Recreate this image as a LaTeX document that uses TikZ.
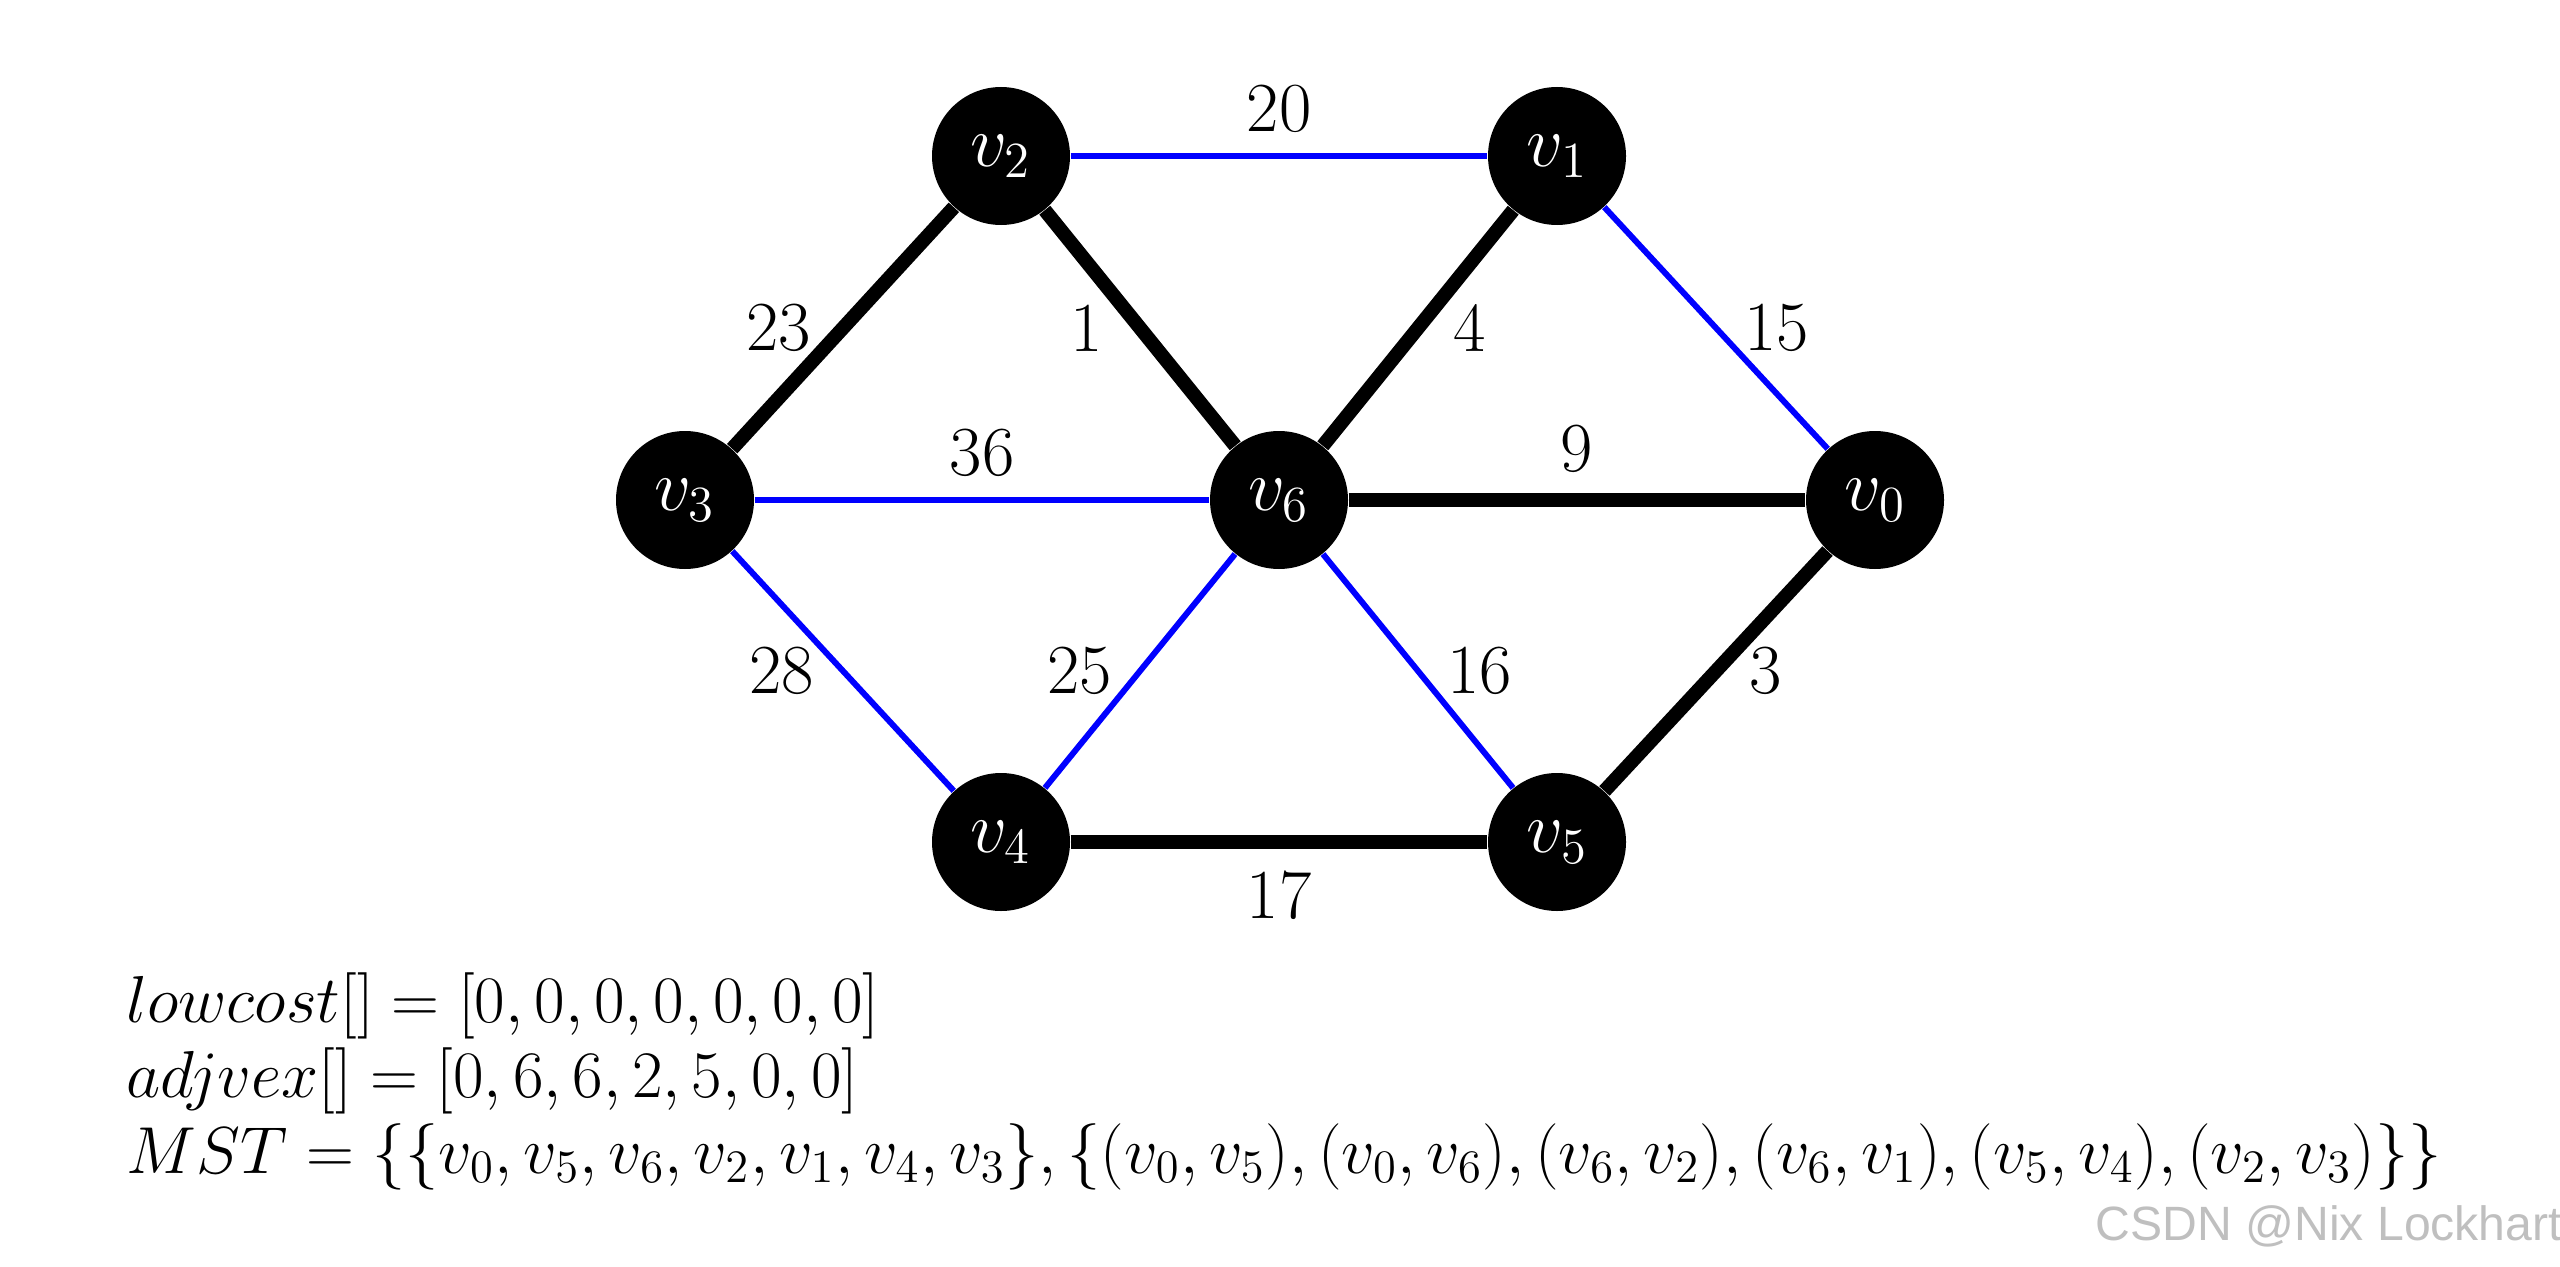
\RequirePackage{fix-cm}
\documentclass[tikz,border=0pt]{standalone}
\usepackage{fontspec}
\newfontfamily\wmfont{Liberation Sans}
\usetikzlibrary{positioning}

\begin{document}
\begin{tikzpicture}[
    vertex/.style={circle, fill=black, text=white, minimum size=1.38cm, inner sep=0pt, font=\fontsize{20.74}{25}\selectfont},
    treeedge/.style={line width=4pt, black},
    restedge/.style={line width=1.7pt, blue},
    weight/.style={inner sep=0pt, text=black, font=\fontsize{20}{24}\selectfont},
    formula/.style={anchor=base west, inner sep=0pt, font=\fontsize{18.9}{22}\selectfont},
]
    \useasboundingbox (0,0) rectangle (25.6,12.66);

    % Vertices
    \node[vertex] (v0) at (18.75,7.66) {$v_0$};
    \node[vertex] (v1) at (15.57,11.10) {$v_1$};
    \node[vertex] (v2) at (10.01,11.10) {$v_2$};
    \node[vertex] (v3) at (6.85,7.66) {$v_3$};
    \node[vertex] (v4) at (10.01,4.24) {$v_4$};
    \node[vertex] (v5) at (15.57,4.24) {$v_5$};
    \node[vertex] (v6) at (12.79,7.66) {$v_6$};

    % Edges left out of the tree
    \draw[restedge] (v2) -- node[weight, above=0.2cm] {20} (v1);
    \draw[restedge] (v1) -- node[weight, right=0.25cm] {15} (v0);
    \draw[restedge] (v3) -- node[weight, above=0.2cm] {36} (v6);
    \draw[restedge] (v3) -- node[weight, left=0.26cm] {28} (v4);
    \draw[restedge] (v4) -- node[weight, left=0.25cm] {25} (v6);
    \draw[restedge] (v6) -- node[weight, right=0.26cm] {16} (v5);

    % Edges of the spanning tree
    \draw[treeedge] (v3) -- node[weight, left=0.25cm] {23} (v2);
    \draw[treeedge] (v2) -- node[weight, left=0.3cm] {1} (v6);
    \draw[treeedge] (v6) -- node[weight, right=0.28cm] {4} (v1);
    \draw[treeedge] (v6) -- node[weight, above=0.2cm] {9} (v0);
    \draw[treeedge] (v5) -- node[weight, right=0.26cm] {3} (v0);
    \draw[treeedge] (v4) -- node[weight, below=0.22cm] {17} (v5);

    % Prim state
    \node[formula] (lowcost) at (1.26,2.44) {$lowcost[] = [0,0,0,0,0,0,0]$};
    \node[formula] (adjvex) at (1.26,1.69) {$adjvex[] = [0,6,6,2,5,0,0]$};
    \node[formula] (mst) at (1.26,0.93) {$MST = \{\{v_0,v_5,v_6,v_2,v_1,v_4,v_3\},\{(v_0,v_5),(v_0,v_6),(v_6,v_2),(v_6,v_1),(v_5,v_4),(v_2,v_3)\}\}$};

    \node[anchor=base west, inner sep=0pt, text=black!25, font=\wmfont\fontsize{13.7}{16}\selectfont] (mark) at (20.95,0.26) {CSDN @Nix Lockhart};
\end{tikzpicture}
\end{document}
